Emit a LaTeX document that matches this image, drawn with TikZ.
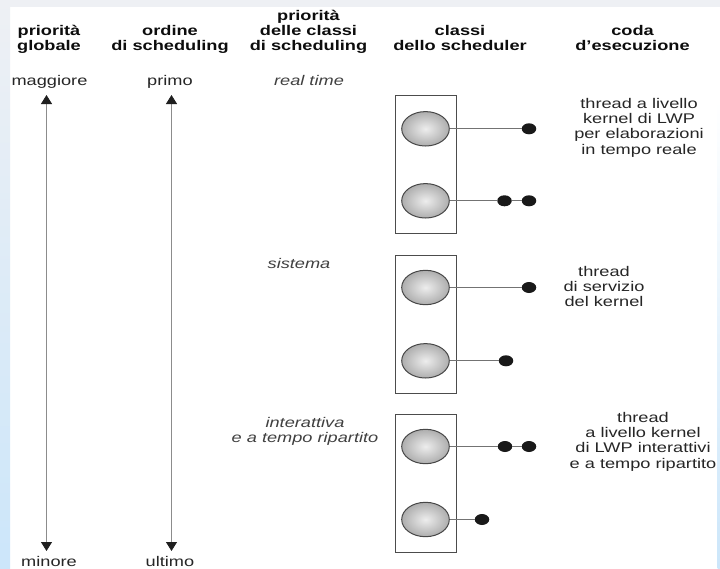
\documentclass[tikz,border=0pt]{standalone}
\usepackage{fontspec}
\newfontfamily\hv{Liberation Sans}[FakeStretch=1.3]
\usetikzlibrary{shapes.geometric,arrows.meta}
\newcommand\mytop{\rule{0pt}{12pt}}
\definecolor{stripgrey}{HTML}{EEF0F4}
\definecolor{stripblue}{HTML}{CCE6FA}
\begin{document}
\begin{tikzpicture}[x=1pt,y=-1pt,
  txt/.style={inner sep=0pt, anchor=north, align=center, text=black!85,
    font=\hv\fontsize{14}{15.3}\selectfont},
  hdr/.style={txt, text=black!95, font=\hv\bfseries\fontsize{14}{15}\selectfont},
  ital/.style={txt, text=black!75, font=\hv\itshape\fontsize{14}{15}\selectfont},
  box/.style={draw=black!70, line width=0.9pt, rectangle, inner sep=0pt,
    minimum width=61.7pt, minimum height=138pt},
  ball/.style={ellipse, draw=black!72, line width=1pt, inner sep=0pt,
    minimum width=47.6pt, minimum height=34.4pt,
    inner color=black!7, outer color=black!32},
  dot/.style={ellipse, fill=black!90, inner sep=0pt,
    minimum width=14.5pt, minimum height=11pt},
  conn/.style={draw=black!55, line width=0.9pt},
  Tri/.tip={Triangle[width=11pt,length=9pt,color=black!88]},
  arr/.style={draw=black!45, line width=0.8pt, arrows={Tri-Tri}}]
\useasboundingbox (0,0) rectangle (720,568);
% background
\fill[white] (0,0) rectangle (720,568);
\fill[stripgrey] (0,0) rectangle (720,7);
\shade[top color=stripgrey, bottom color=stripblue] (0,0) rectangle (10,568);
\shade[top color=white, bottom color=stripblue] (717.5,100) rectangle (720,568);

% headers
\node[hdr] (h1) at (49,23.5) {\mytop priorità\\globale};
\node[hdr] (h2) at (170,23.5) {\mytop ordine\\di scheduling};
\node[hdr] (h3) at (308.5,8.5) {\mytop priorità\\delle classi\\di scheduling};
\node[hdr] (h4) at (460,23.5) {\mytop classi\\dello scheduler};
\node[hdr] (h5) at (632.5,23.5) {\mytop coda\\d’esecuzione};

% row labels
\node[txt] (mag) at (49.5,73) {\mytop maggiore};
\node[txt] (pri) at (170,73) {\mytop primo};
\node[ital] (rt) at (309,73) {\mytop real time};
\node[txt] (min) at (49,554) {\mytop minore};
\node[txt] (ult) at (170,554) {\mytop ultimo};
\node[ital] (sis) at (299,256) {\mytop sistema};
\node[ital] (int) at (305,415) {\mytop interattiva\\e a tempo ripartito};

% arrows
\coordinate (a1t) at (46.5,95);
\coordinate (a1b) at (46.5,551);
\coordinate (a2t) at (171.5,95);
\coordinate (a2b) at (171.5,551);
\draw[arr] (a1t) -- (a1b);
\draw[arr] (a2t) -- (a2b);

% boxes
\node[box] (b1) at (425.8,164.7) {};
\node[box] (b2) at (425.8,324) {};
\node[box] (b3) at (425.8,483.4) {};

% balls
\node[ball] (c11) at (425.5,128.8) {};
\node[ball] (c12) at (425.5,200.8) {};
\node[ball] (c21) at (425.5,287.5) {};
\node[ball] (c22) at (425.5,360.8) {};
\node[ball] (c31) at (425.5,446.5) {};
\node[ball] (c32) at (425.5,519.5) {};

% dots
\node[dot] (d11) at (529,128.8) {};
\node[dot] (d12a) at (504.5,200.8) {};
\node[dot] (d12b) at (529,200.8) {};
\node[dot] (d21) at (529,287.5) {};
\node[dot] (d22) at (506,360.8) {};
\node[dot] (d31a) at (505,446.5) {};
\node[dot] (d31b) at (529,446.5) {};
\node[dot] (d32) at (482,519.5) {};

% connectors
\draw[conn] (c11) -- (d11);
\draw[conn] (c12) -- (d12a) -- (d12b);
\draw[conn] (c21) -- (d21);
\draw[conn] (c22) -- (d22);
\draw[conn] (c31) -- (d31a) -- (d31b);
\draw[conn] (c32) -- (d32);

% queue descriptions
\node[txt] (q1) at (639,96) {\mytop thread a livello\\kernel di LWP\\per elaborazioni\\in tempo reale};
\node[txt] (q2) at (604,264) {\mytop thread\\di servizio\\del kernel};
\node[txt] (q3) at (643,410) {\mytop thread\\a livello kernel\\di LWP interattivi\\e a tempo ripartito};
\end{tikzpicture}
\end{document}
